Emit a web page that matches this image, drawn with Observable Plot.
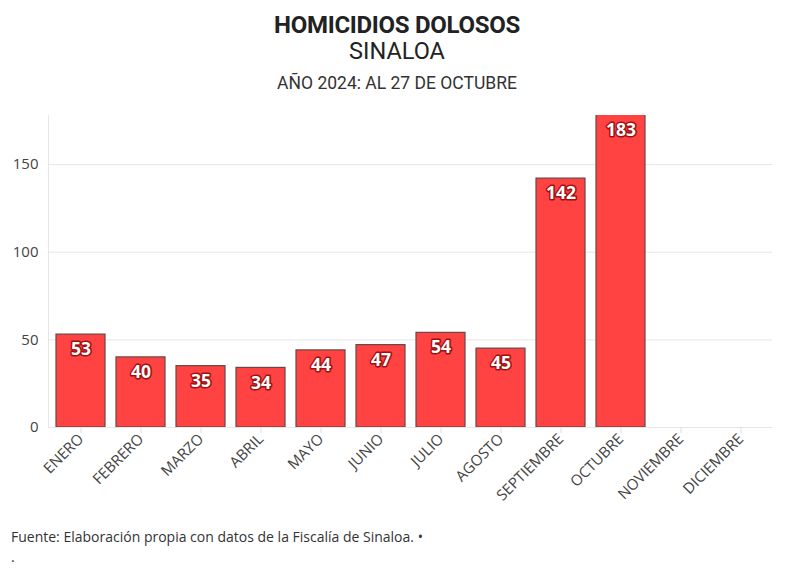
<!DOCTYPE html>
<html>
<head>
<meta charset="utf-8">
<script src="https://cdn.jsdelivr.net/npm/d3@7"></script>
<script src="https://cdn.jsdelivr.net/npm/@observablehq/plot@0.6"></script>
<style>
  html, body { margin: 0; padding: 0; background: #fff; }
  body { width: 794px; height: 575px; overflow: hidden; font-family: Roboto, "Open Sans", sans-serif; }
  .head { text-align: center; color: #222; }
  .t1 { font-family: Roboto, sans-serif; font-weight: 700; font-size: 24px; line-height: 26px; padding-top: 12px; letter-spacing: -0.3px; }
  .t2 { font-family: Roboto, sans-serif; font-weight: 400; font-size: 23.5px; line-height: 26px; }
  .t3 { font-family: Roboto, sans-serif; font-weight: 400; font-size: 17.5px; line-height: 20px; margin-top: 9px; color: #333; }
  #chart { margin-top: 8px; height: 425px; }
  .cap { font-family: "Open Sans", sans-serif; font-size: 14px; color: #333; padding-left: 11px; line-height: 20px; margin-top: 1px; }
</style>
</head>
<body>
<div class="head">
  <div class="t1">HOMICIDIOS DOLOSOS</div>
  <div class="t2">SINALOA</div>
  <div class="t3">AÑO 2024: AL 27 DE OCTUBRE</div>
</div>
<div id="chart"></div>
<div class="cap">Fuente: Elaboración propia con datos de la Fiscalía de Sinaloa. •<br>.</div>
<script>
const months = ["ENERO","FEBRERO","MARZO","ABRIL","MAYO","JUNIO","JULIO","AGOSTO","SEPTIEMBRE","OCTUBRE","NOVIEMBRE","DICIEMBRE"];
const values = [53, 40, 35, 34, 44, 47, 54, 45, 142, 183, null, null];
const yTicks = [0, 50, 100, 150];
const yMax = 178;

const data = months.map((m, i) => ({month: m, value: values[i]})).filter(d => d.value != null);

const chart = Plot.plot({
  width: 794,
  height: 425,
  marginLeft: 48,
  marginRight: 22,
  marginTop: 14,
  marginBottom: 99,
  style: { fontFamily: "'Open Sans', sans-serif", fontSize: "14px", color: "#444", background: "#fff" },
  x: { domain: months, paddingInner: 0.19, paddingOuter: 0.095, label: null },
  y: { domain: [0, yMax], label: null },
  marks: [
    Plot.gridY(yTicks, { stroke: "#e6e6e6", strokeOpacity: 1 }),
    Plot.frame({ anchor: "left", stroke: "#e6e6e6" }),
    Plot.axisX({ tickRotate: -45, tickSize: 6, stroke: "#ddd", fill: "#444", fontSize: 15, tickPadding: 3 }),
    Plot.axisY(yTicks, { tickSize: 0, tickPadding: 10, fill: "#444", fontSize: 15 }),
    Plot.barY(data, { x: "month", y: "value", fill: "#ff4242", stroke: "#6a4646", strokeWidth: 1.2, clip: true }),
    Plot.text(data, {
      x: "month",
      y: d => Math.min(d.value, yMax),
      text: d => String(d.value),
      dy: 15,
      fill: "white",
      stroke: "#a01010",
      strokeWidth: 3,
      paintOrder: "stroke",
      fontWeight: 700,
      fontSize: 17.5,
      fontFamily: "'Open Sans', sans-serif"
    })
  ]
});
document.getElementById("chart").appendChild(chart);
</script>
</body>
</html>
